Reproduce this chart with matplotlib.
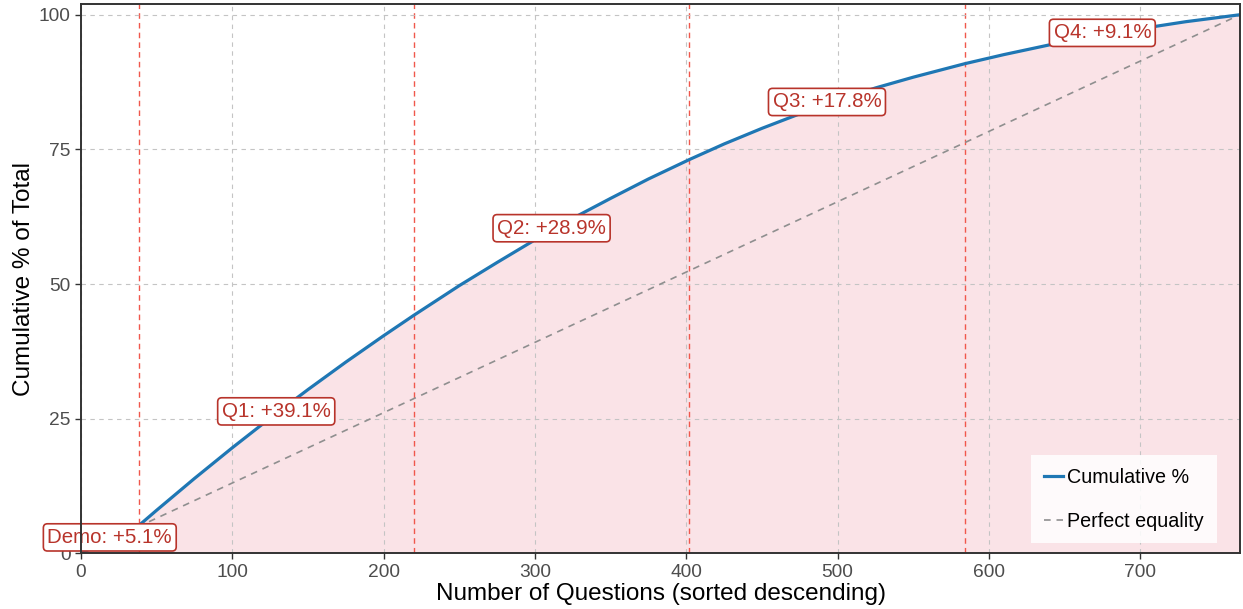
import matplotlib
matplotlib.use("Agg")
import matplotlib.pyplot as plt
import numpy as np

plt.rcParams['font.family'] = ['Liberation Sans', 'DejaVu Sans']

# questions sorted by weight, cumulative share
n_questions = 766
q_x = [0, 38, 50, 75, 100, 125, 150, 175, 200, 220, 250, 275, 300, 325, 350,
       375, 402, 425, 450, 475, 500, 525, 550, 584, 610, 640, 670, 700, 730, 766]
cum_pct = [0.0, 5.1, 8.0, 13.9, 19.6, 25.1, 30.4, 35.5, 40.4, 44.2, 49.7, 54.0,
           58.2, 62.2, 65.9, 69.5, 73.1, 76.0, 78.9, 81.6, 84.1, 86.4, 88.4, 90.9,
           92.6, 94.4, 96.0, 97.4, 98.7, 100.0]

# section boundaries and the share each section adds
sections = ["Demo", "Q1", "Q2", "Q3", "Q4"]
bounds = [0, 38, 220, 402, 584, 766]
gains = [5.1, 39.1, 28.9, 17.8, 9.1]

red = '#b8342b'

fig = plt.figure(figsize=(12.43, 6.09), dpi=100)
ax = fig.add_axes([0.0652, 0.0915, 0.9324, 0.9020])

ax.fill_between(q_x, 0, cum_pct, color='#fae3e7', lw=0, zorder=1)
for b in bounds[1:-1]:
    ax.axvline(b, color='#f0574c', lw=1.0, ls=(0, (4, 3)), zorder=2)
ax.plot([0, n_questions], [0, 100], color='#8f8f8f', lw=1.2, ls=(0, (4, 3.5)),
        label='Perfect equality', zorder=3)
ax.plot(q_x, cum_pct, color='#1f77b4', lw=2.3, label='Cumulative %', zorder=4)

for name, lo, hi, g in zip(sections, bounds[:-1], bounds[1:], gains):
    mid = (lo + hi) / 2
    ax.text(mid, np.interp(mid, q_x, cum_pct) + 0.4, f"{name}: +{g}%",
            ha='center', va='center', fontsize=14.8, color=red, zorder=6,
            clip_on=False,
            bbox=dict(boxstyle='round,pad=0.2,rounding_size=0.2', fc='white',
                      ec=red, lw=1.2))

ax.set_xlim(0, n_questions)
ax.set_ylim(0, 102)
ax.set_xticks(range(0, 800, 100))
ax.set_yticks([0, 25, 50, 75, 100])
ax.set_axisbelow(False)
ax.grid(True, color='#c4c4c4', lw=0.8, ls=(0, (4, 4)))
for gl in ax.get_xgridlines() + ax.get_ygridlines():
    gl.set_zorder(1.5)
ax.tick_params(labelsize=13.8, labelcolor='#4d4d4d', color='#333333',
               length=4, width=1.0, direction='out')
for s in ax.spines.values():
    s.set_color('#333333')
    s.set_linewidth(1.4)
    s.set_zorder(7)

ax.set_xlabel('Number of Questions (sorted descending)', fontsize=17.5, labelpad=2)
ax.set_ylabel('Cumulative % of Total', fontsize=17.5, labelpad=3)

handles, labels = ax.get_legend_handles_labels()
leg = ax.legend(handles[::-1], labels[::-1], loc='lower right', fontsize=14.2,
                frameon=True, fancybox=False, framealpha=0.85, edgecolor='none',
                handlelength=1.0, handletextpad=0.2, labelspacing=1.25,
                borderpad=0.65, borderaxespad=0,
                bbox_to_anchor=(0.980, 0.018))
leg.set_zorder(8)

fig.savefig('out.png', dpi=100, facecolor='white')
